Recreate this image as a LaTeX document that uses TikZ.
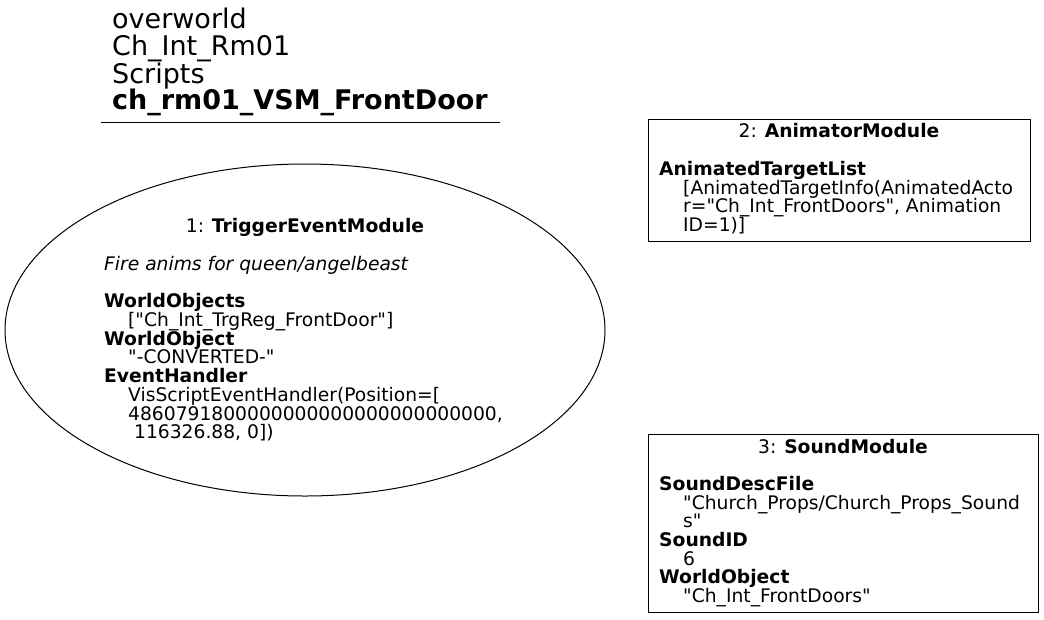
\documentclass[tikz,border=0pt]{standalone}
\usepackage{fontspec}
\setmainfont[Ligatures=TeXOff]{DejaVu Sans}
\usetikzlibrary{shapes.geometric}
\tikzset{
  body/.style={anchor=north west, inner sep=0, align=left, font=\fontsize{18.7}{18.7}\selectfont},
  head/.style={anchor=north, inner sep=0, font=\fontsize{18.7}{18.7}\selectfont},
  title/.style={anchor=north west, inner sep=0, align=left, font=\fontsize{27}{26.7}\selectfont},
  modbox/.style={draw, rectangle, inner sep=0, line width=1pt},
  modell/.style={draw, ellipse, inner sep=0, line width=1pt}
}
\newcommand{\ind}{\hspace*{24pt}}
\begin{document}
\begin{tikzpicture}[x=1pt,y=-1pt]
\useasboundingbox (0,0) rectangle (1044,619);
\node[title] (t) at (112,8) {overworld\\Ch\_Int\_Rm01\\Scripts\\\textbf{ch\_rm01\_VSM\_FrontDoor}};
\draw[line width=1pt] (101,122) -- (500,122);

\node[modell, minimum width=600pt, minimum height=332pt] (m1) at (305,330) {};
\node[head] (h1) at (305,218) {1: \textbf{TriggerEventModule}};
\node[body] (b1) at (104,256) {\textit{Fire anims for queen/angelbeast}\\[18.7pt]
\textbf{WorldObjects}\\
\ind["Ch\_Int\_TrgReg\_FrontDoor"]\\
\textbf{WorldObject}\\
\ind"-CONVERTED-"\\
\textbf{EventHandler}\\
\ind VisScriptEventHandler(Position=[\\
\ind 4860791800000000000000000000000,\\
\ind\ 116326.88, 0])};

\node[modbox, minimum width=382pt, minimum height=122pt] (m2) at (839,180) {};
\node[head] (h2) at (839,123) {2: \textbf{AnimatorModule}};
\node[body] (b2) at (659,161) {\textbf{AnimatedTargetList}\\
\ind[AnimatedTargetInfo(AnimatedActo\\
\ind r="Ch\_Int\_FrontDoors", Animation\\
\ind ID=1)]};

\node[modbox, minimum width=390pt, minimum height=178pt] (m3) at (843,523) {};
\node[head] (h3) at (843,439) {3: \textbf{SoundModule}};
\node[body] (b3) at (659,476) {\textbf{SoundDescFile}\\
\ind"Church\_Props/Church\_Props\_Sound\\
\ind s"\\
\textbf{SoundID}\\
\ind 6\\
\textbf{WorldObject}\\
\ind"Ch\_Int\_FrontDoors"};
\end{tikzpicture}
\end{document}
